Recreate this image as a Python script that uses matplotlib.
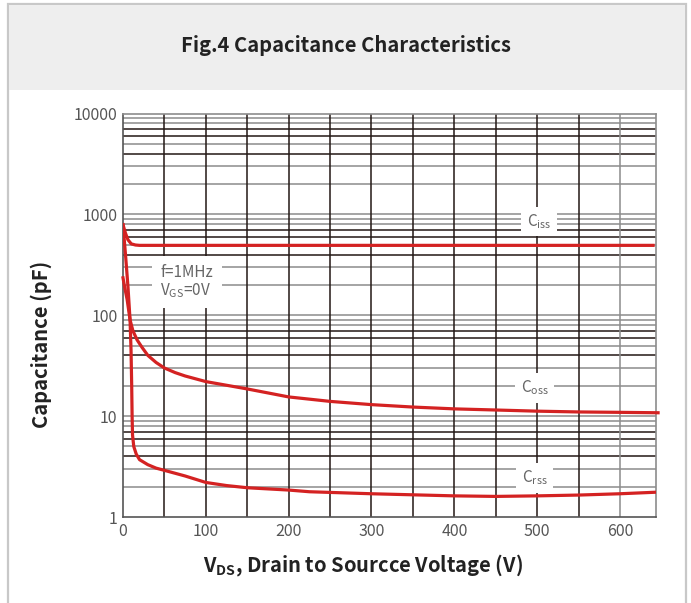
import numpy as np
import matplotlib.pyplot as plt
from matplotlib.patches import Rectangle

plt.rcParams['font.family'] = ['Noto Sans CJK SC', 'DejaVu Sans']
plt.rcParams['mathtext.fontset'] = 'custom'
plt.rcParams['mathtext.rm'] = 'Noto Sans CJK SC'
plt.rcParams['mathtext.bf'] = 'Noto Sans CJK SC:bold'

# data
ciss_v = [0, 3, 6, 10, 15, 20, 100, 300, 500, 640]
ciss_c = [790, 650, 560, 510, 497, 493, 493, 493, 493, 493]

coss_v = [0, 2, 5, 8.5, 12, 17, 23, 30, 40, 50, 63, 75, 100, 150, 200, 250,
          300, 350, 400, 450, 500, 550, 600, 646]
coss_c = [235, 190, 143, 90, 70, 57, 48, 40, 34, 30, 27, 25, 22, 18.6, 15.5,
          14, 13, 12.3, 11.8, 11.5, 11.2, 11, 10.9, 10.8]

crss_v = [0, 3, 6, 8.5, 9.7, 10.5, 11, 11.5, 13, 16, 20, 30, 40, 50, 75, 100,
          125, 150, 200, 225, 300, 400, 450, 500, 550, 600, 643]
crss_c = [790, 400, 192, 90, 45, 20, 10, 6.5, 5, 4.2, 3.7, 3.3, 3.05, 2.9,
          2.55, 2.2, 2.05, 1.95, 1.85, 1.78, 1.7, 1.62, 1.6, 1.62, 1.65, 1.7,
          1.76]

x_ticks = [0, 100, 200, 300, 400, 500, 600]
y_ticks = [1, 10, 100, 1000, 10000]

dark = '#231815'
grey = '#8c8c8c'
red = '#d42222'

fig = plt.figure(figsize=(6.91, 6.03), dpi=100)

# card frame and title band
fig.patches.append(Rectangle((8 / 691, -0.05), 678 / 691, 1.05 - 4 / 603,
                             transform=fig.transFigure, facecolor='white',
                             edgecolor='#c8c8c8', linewidth=1.6, zorder=0))
fig.patches.append(Rectangle((9 / 691, 1 - 90 / 603), 676 / 691, 85 / 603,
                             transform=fig.transFigure, facecolor='#eeeeee',
                             edgecolor='none', zorder=0))
fig.text(0.5, 1 - 45 / 603, 'Fig.4 Capacitance Characteristics', ha='center',
         va='center', fontsize=14.5, fontweight='bold', color='#222222')

ax = fig.add_axes([123 / 691, 1 - 517 / 603, 533 / 691, 403.5 / 603])
ax.set_zorder(5)
ax.set_yscale('log')
ax.set_xlim(0, 643.5)
ax.set_ylim(1, 10000)

# grid lines
minor_cols = [grey, grey, dark, grey, dark, dark, grey, grey]
for dec in [1, 10, 100, 1000]:
    for k, col in zip(range(2, 10), minor_cols):
        ax.axhline(dec * k, color=col, lw=1.1, zorder=1)
    if dec > 1:
        ax.axhline(dec, color=grey, lw=1.1, zorder=1)
for xv in range(50, 650, 50):
    ax.axvline(xv, color=grey if xv == 600 else dark, lw=1.1, zorder=1)

ax.plot(ciss_v, ciss_c, color=red, lw=2.3, zorder=3)
ax.plot(coss_v, coss_c, color=red, lw=2.3, zorder=3, clip_on=False)
ax.plot(crss_v, crss_c, color=red, lw=2.3, zorder=3)

txt = '#666666'
lab_box = dict(facecolor='white', edgecolor='none', pad=4)
ax.text(502, 850, r'C$_{\mathrm{iss}}$', ha='center', va='center',
        fontsize=11, color=txt, bbox=lab_box, zorder=4)
ax.text(497, 19, r'C$_{\mathrm{oss}}$', ha='center', va='center',
        fontsize=11, color=txt, bbox=lab_box, zorder=4)
ax.text(497, 2.45, r'C$_{\mathrm{rss}}$', ha='center', va='center',
        fontsize=11, color=txt, bbox=lab_box, zorder=4)
ax.text(77, 215, 'f=1MHz\nV$_{\\mathrm{GS}}$=0V', ha='center', va='center',
        fontsize=11, color=txt, linespacing=1.0, multialignment='left',
        bbox=dict(facecolor='white', edgecolor='none', pad=6), zorder=4)

ax.set_xticks(x_ticks)
ax.set_xticklabels([str(v) for v in x_ticks])
ax.set_yticks(y_ticks)
ax.set_yticklabels([str(v) for v in y_ticks])
ax.minorticks_off()
ax.tick_params(length=0, labelsize=11.5, labelcolor='#555555', pad=4)

for side in ['top', 'right']:
    ax.spines[side].set_color(grey)
for side in ['left', 'bottom']:
    ax.spines[side].set_color('#555555')
for sp in ax.spines.values():
    sp.set_linewidth(1.2)
    sp.set_zorder(2)

ax.set_ylabel('Capacitance (pF)', fontsize=14.5, fontweight='bold',
              color='#222222')
ax.yaxis.set_label_coords(-0.133, 0.427)
ax.set_xlabel('V$_{\\mathbf{DS}}$, Drain to Sourcce Voltage (V)',
              fontsize=14.5, fontweight='bold', color='#222222')
ax.xaxis.set_label_coords(0.45, -0.088)

fig.savefig('out.png', dpi=100)
